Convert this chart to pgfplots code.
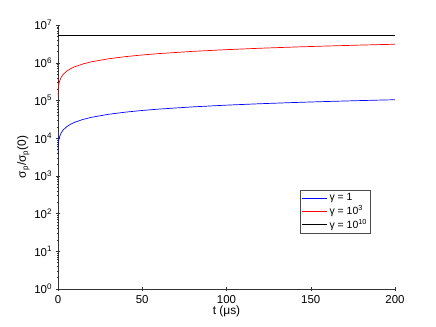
\documentclass[border=0pt]{standalone}
\usepackage{fontspec}
\setmainfont{Liberation Sans}
\usepackage{pgfplots}
\pgfplotsset{compat=1.18}

\begin{document}
\fontsize{11.5}{13}\selectfont
\begin{tikzpicture}
\begin{axis}[
  scale only axis, width=337bp, height=264bp,
  ymode=log, xmin=0, xmax=200, ymin=1, ymax=1e7,
  axis lines=left, axis line style={-, black!80, line width=0.5pt},
  tick style={black!80, line width=0.4pt},
  major tick length=4bp, minor tick length=2.2bp,
  xtick={0,50,100,150,200},
  xticklabels={0,50,100,150,200},
  ytick={1,10,100,1000,10000,100000,1000000,10000000},
  yticklabels={10\textsuperscript{0},10\textsuperscript{1},10\textsuperscript{2},10\textsuperscript{3},10\textsuperscript{4},10\textsuperscript{5},10\textsuperscript{6},10\textsuperscript{7}},
  ticklabel style={font=\fontsize{11.5}{13}\selectfont},
  xlabel={t (μs)},
  ylabel={σ\textsubscript{p}/σ\textsubscript{p}(0)},
  label style={font=\fontsize{12}{13}\selectfont},
  xlabel style={yshift=5bp},
  ylabel style={yshift=-3bp},
  legend style={at={(0.718,0.375)}, anchor=north west, draw=black!70,
    inner sep=1.5pt, row sep=-1pt, legend cell align=left},
  legend image code/.code={\draw[#1] (0bp,0bp) -- (25bp,0bp);},
  legend image post style={line width=0.9pt},
]
\addplot[blue, line width=0.7pt] coordinates {
 (0,4000) (0.1,6245) (0.25,7550) (0.5,9020) (1,11100) (2,14041) (3,16298)
 (5,19876) (7.5,23444) (10,26452) (15,31498) (20,35752) (30,42888)
 (40,48905) (50,54205) (60,58997) (80,67505) (100,75000) (120,81773)
 (140,88007) (160,93808) (180,99254) (200,104408)};
\addlegendentry{\fontsize{10.5}{11}\selectfont γ = 1}
\addplot[red, line width=0.7pt] coordinates {
 (0,120000) (0.1,186402) (0.25,225000) (0.5,268491) (1,330000) (2,416982)
 (3,483741) (5,589581) (7.5,695106) (10,784083) (15,933330) (20,1059141)
 (30,1270212) (40,1448166) (50,1604931) (60,1746660) (80,1998303)
 (100,2220000) (120,2420340) (140,2604720) (160,2776290) (180,2937360)
 (200,3089820)};
\addlegendentry{\fontsize{10.5}{11}\selectfont γ = 10\textsuperscript{3}}
\addplot[black, line width=0.7pt] coordinates {(0,5.4e6) (200,5.4e6)};
\addlegendentry{\fontsize{10.5}{11}\selectfont γ = 10\textsuperscript{10}}
\end{axis}
\useasboundingbox ([shift={(-58bp,-38bp)}]current axis.south west) rectangle ([shift={(41bp,25bp)}]current axis.north east);
\end{tikzpicture}
\end{document}
